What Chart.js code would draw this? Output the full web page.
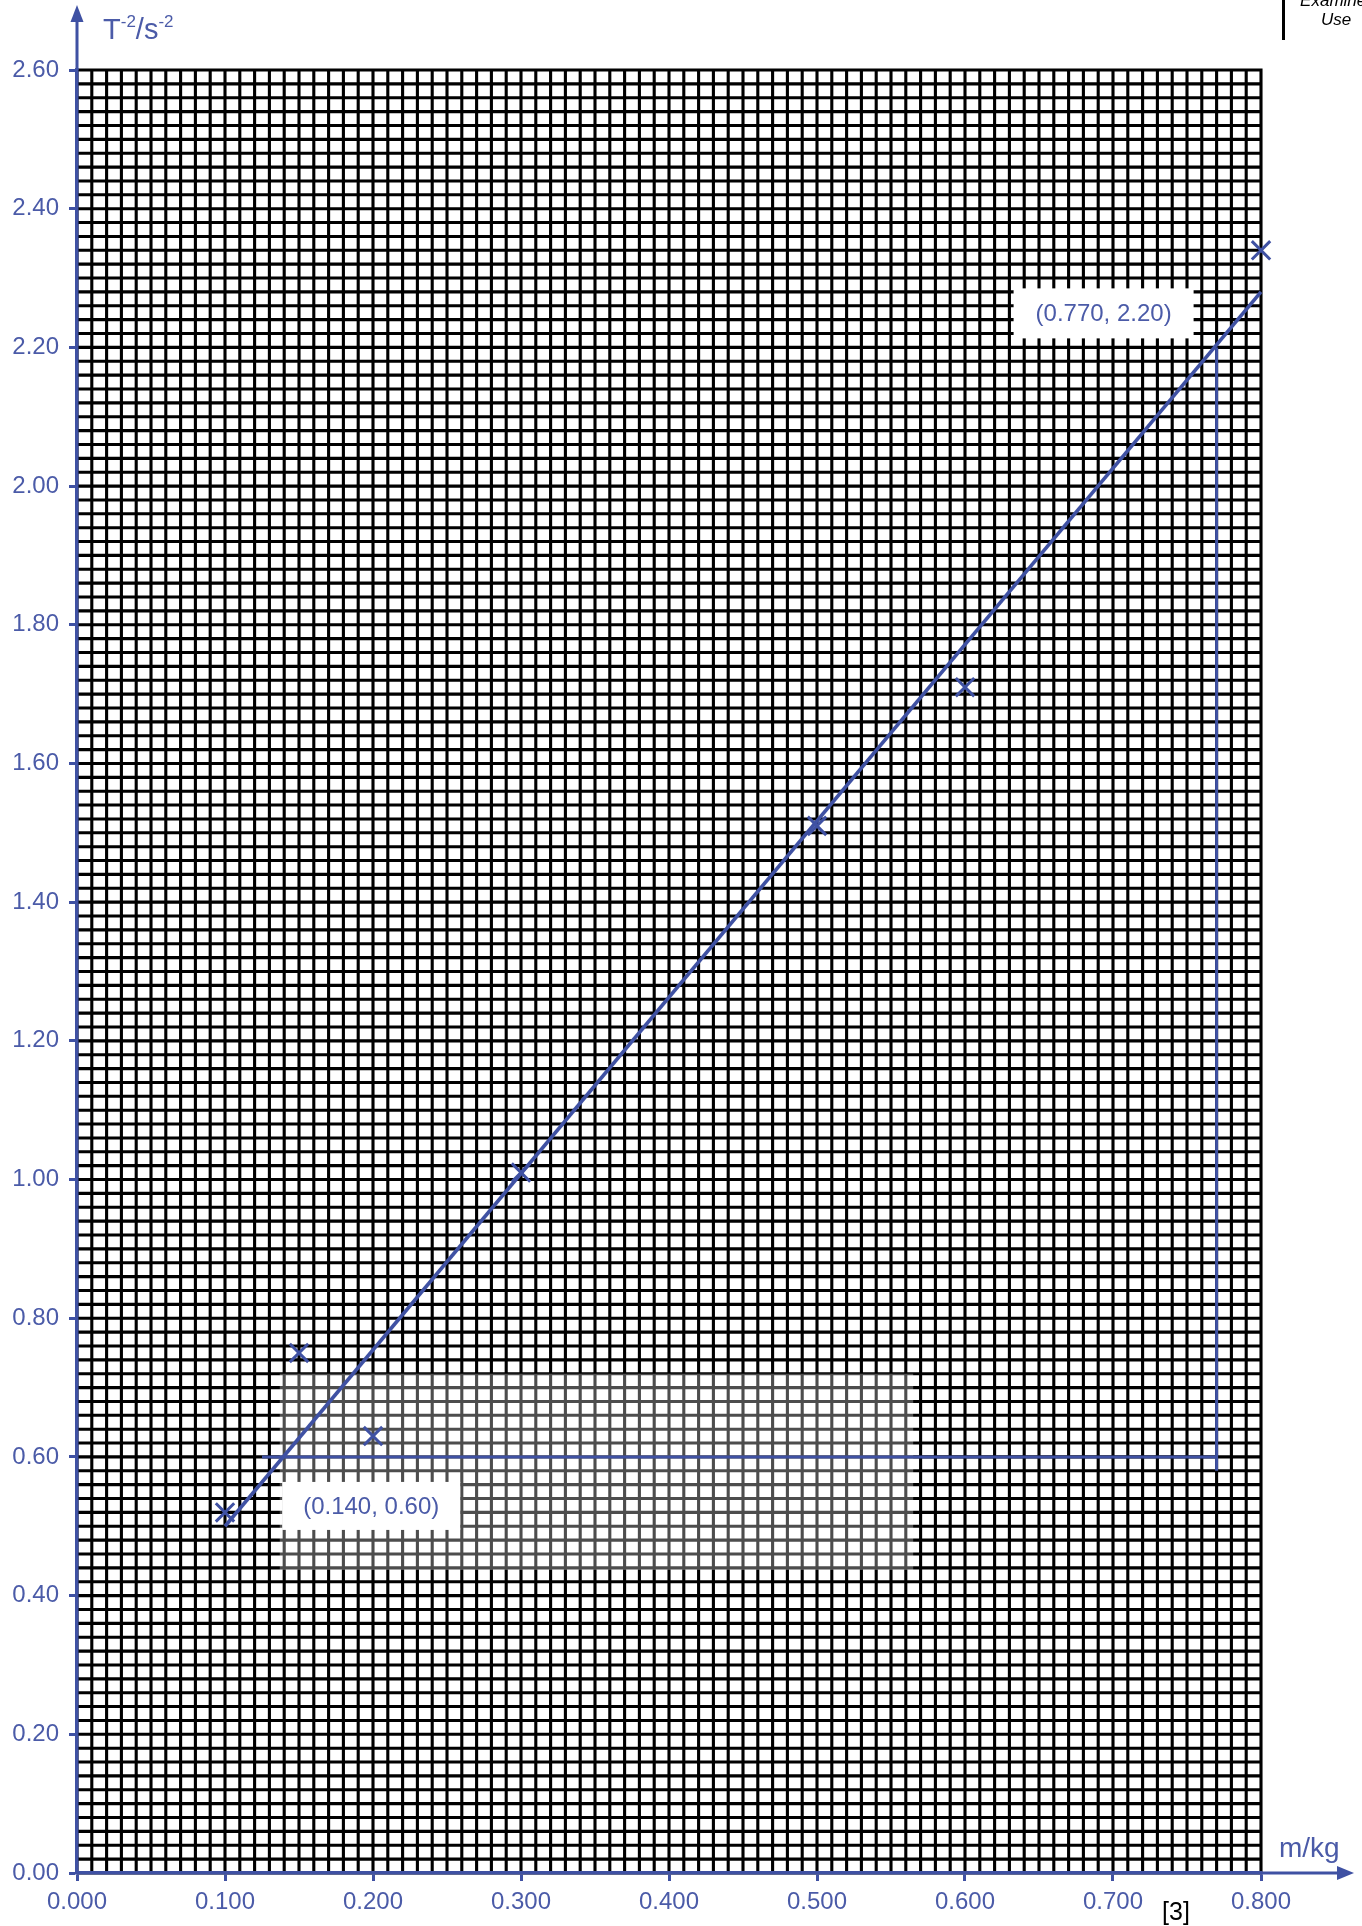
<!DOCTYPE html>
<html>
<head>
<meta charset="utf-8">
<script src="https://cdn.jsdelivr.net/npm/chart.js@4.4.0/dist/chart.umd.min.js"></script>
<style>
  html, body { margin: 0; padding: 0; background: #fff; }
  canvas { display: block; }
</style>
</head>
<body>
<canvas id="graph1" width="1362" height="1926"></canvas>
<script>
// readings taken off the plotted crosses
const masses = [0.100, 0.150, 0.200, 0.300, 0.500, 0.600, 0.800];
const invT2 = [0.52, 0.75, 0.63, 1.01, 1.51, 1.71, 2.34];

// best fit line, drawn by hand on the paper
const fitX = [0.100, 0.800];
const fitY = [0.50, 2.28];

// gradient triangle
const triX = [0.125, 0.770, 0.770, 0.770];
const triY = [0.60, 0.60, 0.58, 2.20];

const pointLabels = ['(0.140, 0.60)', '(0.770, 2.20)'];
const labelX = [0.140, 0.770];
const labelY = [0.60, 2.20];

const blue = '#3f51a3';
const blueText = '#4b5ba8';
const fontFam = '"Liberation Sans", Arial, sans-serif';

function toPoints(xs, ys) {
  return xs.map((x, i) => ({ x: x, y: ys[i] }));
}

// graph paper: fine squares every 0.01 kg and 0.02 s^-2
const gridPaper = {
  id: 'gridPaper',
  beforeDraw(chart) {
    const ctx = chart.ctx;
    const xs = chart.scales.x, ys = chart.scales.y;
    const a = chart.chartArea;
    ctx.save();
    ctx.fillStyle = '#fff';
    ctx.fillRect(0, 0, chart.width, chart.height);
    ctx.strokeStyle = '#000';
    ctx.lineWidth = 3.1;
    ctx.beginPath();
    for (let i = 0; i <= 80; i++) {
      const px = xs.getPixelForValue(i / 100);
      ctx.moveTo(px, a.top - 1.5);
      ctx.lineTo(px, a.bottom);
    }
    for (let j = 0; j <= 130; j++) {
      const py = ys.getPixelForValue(j / 50);
      ctx.moveTo(a.left, py);
      ctx.lineTo(a.right + 1.5, py);
    }
    ctx.stroke();
    ctx.restore();
  },
  beforeDatasetsDraw(chart) {
    const ctx = chart.ctx;
    const xs = chart.scales.x, ys = chart.scales.y;
    ctx.save();
    // washed out patch of the scan
    const fx0 = xs.getPixelForValue(0.137), fx1 = xs.getPixelForValue(0.565);
    const fy0 = ys.getPixelForValue(0.72), fy1 = ys.getPixelForValue(0.437);
    ctx.fillStyle = 'rgba(255,255,255,0.3)';
    ctx.fillRect(fx0, fy0, fx1 - fx0, fy1 - fy0);

    // label boxes for the two read points
    const offs = [[87, 49], [-113, -34]];
    const sizes = [[178, 48], [180, 50]];
    ctx.font = '24px ' + fontFam;
    ctx.textAlign = 'center';
    ctx.textBaseline = 'middle';
    for (let k = 0; k < pointLabels.length; k++) {
      const cx = xs.getPixelForValue(labelX[k]) + offs[k][0];
      const cy = ys.getPixelForValue(labelY[k]) + offs[k][1];
      ctx.fillStyle = '#fff';
      ctx.fillRect(cx - sizes[k][0] / 2, cy - sizes[k][1] / 2, sizes[k][0], sizes[k][1]);
      ctx.fillStyle = blueText;
      ctx.fillText(pointLabels[k], cx, cy + 1);
    }
    ctx.restore();
  },
  afterDraw(chart) {
    const ctx = chart.ctx;
    const a = chart.chartArea;
    ctx.save();
    // axis arrows
    ctx.strokeStyle = blue;
    ctx.fillStyle = blue;
    ctx.lineWidth = 3;
    ctx.beginPath();
    ctx.moveTo(a.left, a.top);
    ctx.lineTo(a.left, 18);
    ctx.moveTo(a.right, a.bottom);
    ctx.lineTo(1340, a.bottom);
    ctx.stroke();
    ctx.beginPath();
    ctx.moveTo(a.left, 5);
    ctx.lineTo(a.left - 6.5, 22);
    ctx.lineTo(a.left + 6.5, 22);
    ctx.closePath();
    ctx.fill();
    ctx.beginPath();
    ctx.moveTo(1354, a.bottom);
    ctx.lineTo(1337, a.bottom - 7);
    ctx.lineTo(1337, a.bottom + 7);
    ctx.closePath();
    ctx.fill();

    // axis titles
    ctx.fillStyle = blueText;
    ctx.textBaseline = 'alphabetic';
    ctx.textAlign = 'left';
    const big = '29px ' + fontFam;
    const sup = '17px ' + fontFam;
    let x = 103;
    const parts = [['T', big, 39], ['-2', sup, 27], ['/s', big, 39], ['-2', sup, 27]];
    parts.forEach(p => {
      ctx.font = p[1];
      ctx.fillText(p[0], x, p[2]);
      x += ctx.measureText(p[0]).width;
    });
    ctx.font = '28px ' + fontFam;
    ctx.fillText('m/kg', 1279, 1857);

    // mark allocation and margin box
    ctx.fillStyle = '#000';
    ctx.font = '25px ' + fontFam;
    ctx.textAlign = 'center';
    ctx.fillText('[3]', 1176, 1920);
    ctx.font = 'italic 17px ' + fontFam;
    ctx.fillText('Examiner', 1336, 6);
    ctx.fillText('Use', 1336, 25);
    ctx.fillRect(1282, 0, 3, 40);
    ctx.restore();
  }
};

const data = {
  datasets: [
    {
      label: 'readings',
      data: toPoints(masses, invT2),
      showLine: false,
      pointStyle: 'crossRot',
      pointRadius: 13,
      pointBorderWidth: 3,
      borderColor: blue,
      backgroundColor: blue,
      clip: false
    },
    {
      label: 'best fit',
      data: toPoints(fitX, fitY),
      showLine: true,
      borderColor: blue,
      borderWidth: 3.6,
      pointRadius: 0,
      clip: false
    },
    {
      label: 'gradient',
      data: toPoints(triX, triY),
      showLine: true,
      borderColor: blue,
      borderWidth: 3,
      pointRadius: 0,
      clip: false
    }
  ]
};

const tickFont = { family: fontFam, size: 24 };

const config = {
  type: 'scatter',
  data: data,
  options: {
    responsive: false,
    animation: false,
    layout: { padding: { top: 70, right: 101, left: 0, bottom: 0 } },
    plugins: {
      legend: { display: false },
      tooltip: { enabled: false },
      title: { display: false }
    },
    scales: {
      x: {
        type: 'linear',
        min: 0,
        max: 0.8,
        afterFit(scale) { scale.height = 53; },
        ticks: {
          stepSize: 0.1,
          color: blueText,
          padding: 7,
          maxRotation: 0,
          font: tickFont,
          callback: v => v.toFixed(3)
        },
        grid: {
          drawOnChartArea: false,
          color: blue,
          tickColor: blue,
          tickLength: 8,
          tickWidth: 3
        },
        border: { color: blue, width: 3.5 }
      },
      y: {
        type: 'linear',
        min: 0,
        max: 2.6,
        afterFit(scale) { scale.width = 77; },
        ticks: {
          stepSize: 0.2,
          color: blueText,
          padding: 10,
          font: tickFont,
          callback: v => v.toFixed(2)
        },
        grid: {
          drawOnChartArea: false,
          color: blue,
          tickColor: blue,
          tickLength: 8,
          tickWidth: 3
        },
        border: { color: blue, width: 3.5 }
      }
    }
  },
  plugins: [gridPaper]
};

new Chart(document.querySelector('#graph1'), config);
</script>
</body>
</html>
